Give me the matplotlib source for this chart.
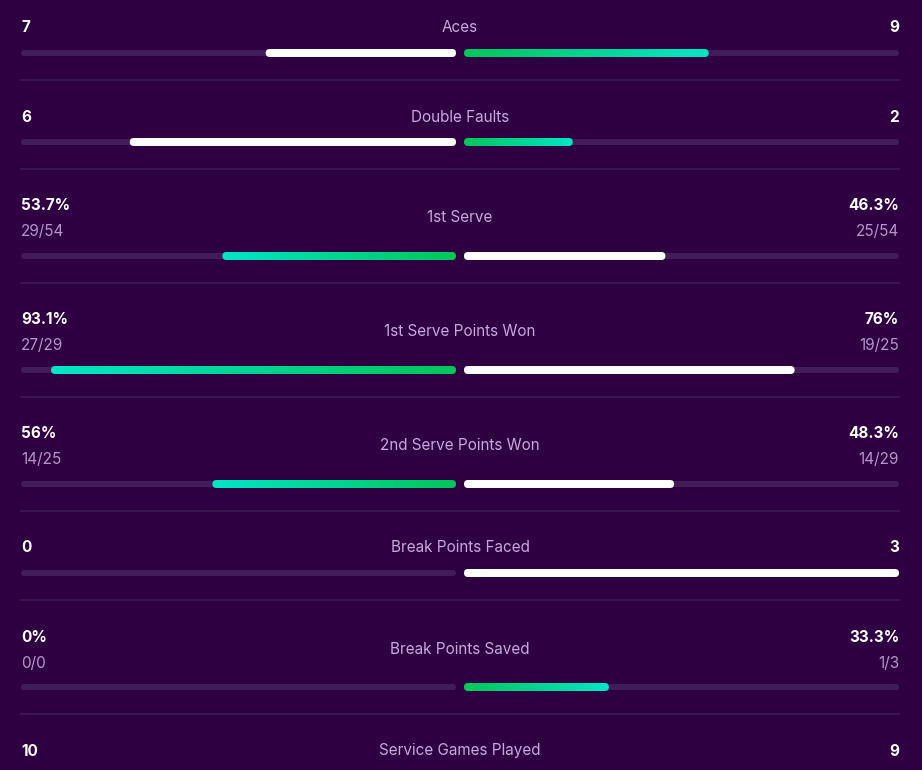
import numpy as np
import matplotlib
matplotlib.use('Agg')
import matplotlib.pyplot as plt
from matplotlib.patches import FancyBboxPatch
from matplotlib.colors import LinearSegmentedColormap

plt.rcParams['font.family'] = ['Inter', 'DejaVu Sans']

# stats, top to bottom
stat_names = ['Aces', 'Double Faults', '1st Serve', '1st Serve Points Won',
              '2nd Serve Points Won', 'Break Points Faced', 'Break Points Saved',
              'Service Games Played']
left_vals = [7, 6, 53.7, 93.1, 56, 0, 0, 10]
right_vals = [9, 2, 46.3, 76, 48.3, 3, 33.3, 9]
is_percent = [False, False, True, True, True, False, True, False]
higher_better = [True, False, True, True, True, False, True, True]
left_main = ['7', '6', '53.7%', '93.1%', '56%', '0', '0%', '10']
right_main = ['9', '2', '46.3%', '76%', '48.3%', '3', '33.3%', '9']
left_sub = [None, None, '29/54', '27/29', '14/25', None, '0/0', None]
right_sub = [None, None, '25/54', '19/25', '14/29', None, '1/3', None]

bg = '#2e0041'
track_col = '#421c58'
sep_col = '#3d1a53'
label_col = '#c9a8dc'
sub_col = '#b596c9'
grad = LinearSegmentedColormap.from_list('win', ['#02c65a', '#00e6c6'])

W, H = 922, 770
x_left, x_mid, x_right = 21, 460, 899
gap = 4
half = x_mid - gap - x_left  # length of one track

fig = plt.figure(figsize=(W / 100, H / 100), dpi=100, facecolor=bg)
ax = fig.add_axes([0, 0, 1, 1])
ax.set_xlim(0, W)
ax.set_ylim(H, 0)
ax.axis('off')
ax.set_facecolor(bg)


def rbar(x0, x1, y, h, **kw):
    p = FancyBboxPatch((x0, y - h / 2), x1 - x0, h,
                       boxstyle='round,pad=0,rounding_size=%g' % (h / 2), **kw)
    ax.add_patch(p)
    return p


def fill_bar(x0, x1, y, green, outer_left):
    if x1 - x0 <= 0:
        return
    if not green:
        rbar(x0, x1, y, 8, facecolor='white', edgecolor='none', zorder=3)
        return
    p = rbar(x0, x1, y, 8, facecolor='none', edgecolor='none', zorder=3)
    g = np.linspace(0, 1, 256)[None, :]
    if outer_left:
        g = g[:, ::-1]
    im = ax.imshow(g, cmap=grad, extent=(x0, x1, y + 4, y - 4), aspect='auto', zorder=3,
                   interpolation='bilinear')
    im.set_clip_path(p)


top = -9
for i, name in enumerate(stat_names):
    two_line = left_sub[i] is not None
    if two_line:
        y_main, y_sub, y_label, y_bar, row_h = top + 37, top + 63, top + 49, top + 87, 114
    else:
        y_main, y_label, y_bar, row_h = top + 37, top + 37, top + 62, 89

    ax.text(x_left, y_main, left_main[i], color='white', fontsize=11, fontweight='bold',
            ha='left', va='center')
    ax.text(x_right, y_main, right_main[i], color='white', fontsize=11, fontweight='bold',
            ha='right', va='center')
    if two_line:
        ax.text(x_left, y_sub, left_sub[i], color=sub_col, fontsize=11, ha='left', va='center')
        ax.text(x_right, y_sub, right_sub[i], color=sub_col, fontsize=11, ha='right', va='center')
    ax.text(x_mid, y_label, name, color=label_col, fontsize=11, ha='center', va='center')

    # tracks
    rbar(x_left, x_mid - gap, y_bar, 6, facecolor=track_col, edgecolor='none', zorder=2)
    rbar(x_mid + gap, x_right, y_bar, 6, facecolor=track_col, edgecolor='none', zorder=2)

    l, r = left_vals[i], right_vals[i]
    if is_percent[i]:
        lf, rf = l / 100, r / 100
    else:
        tot = l + r
        lf, rf = (l / tot, r / tot) if tot else (0, 0)
    left_wins = (l > r) if higher_better[i] else (l < r)
    fill_bar(x_mid - gap - lf * half, x_mid - gap, y_bar, left_wins, True)
    fill_bar(x_mid + gap, x_mid + gap + rf * half, y_bar, not left_wins, False)

    top += row_h
    if i < len(stat_names) - 1:
        ax.plot([x_left, x_right], [top, top], color=sep_col, lw=1.2, zorder=1)

fig.savefig('out.png', dpi=100, facecolor=bg)
